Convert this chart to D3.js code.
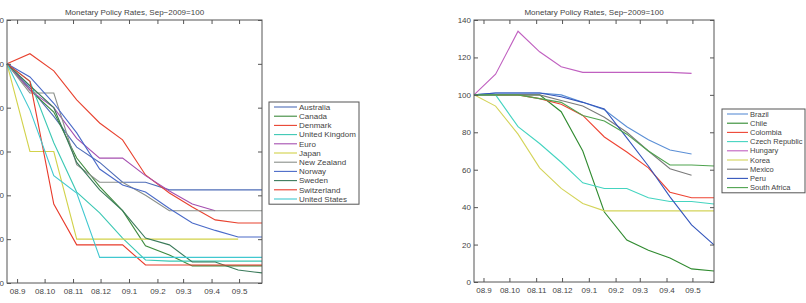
<!DOCTYPE html>
<html>
<head>
<meta charset="utf-8">
<script src="https://cdn.jsdelivr.net/npm/d3@7"></script>
<style>
  body { margin: 0; background: #fff; }
  svg { display: block; font-family: "Liberation Sans", Arial, sans-serif; }
</style>
</head>
<body>
<svg id="chart" width="806" height="303"></svg>
<script>
// observation dates (x positions of the data points)
var obsDates = ["2008-08-21", "2008-09-15", "2008-10-11", "2008-11-05", "2008-11-30", "2008-12-25",
                "2009-01-19", "2009-02-14", "2009-03-11", "2009-04-05", "2009-04-30", "2009-05-26"];

var titleText = "Monetary Policy Rates, Sep\u22122009=100";

// advanced economies
var advNames = ["Australia", "Canada", "Denmark", "United Kingdom", "Euro", "Japan",
                "New Zealand", "Norway", "Sweden", "Switzerland", "United States"];
var advColors = ["#4f6db8", "#3d8a3d", "#e8422f", "#3cc8b4", "#a54fb0", "#d2d24a",
                 "#8a8f8a", "#4a6ac8", "#3a7a5a", "#e83a2a", "#40c8d0"];
var australia   = [100, 89, 76, 62, 55, 46, 46, 42.5, 42.5, 42.5, 42.5, 42.5];
var canada      = [100, 88, 78, 57, 44, 33, 17, 12.8, 7.8, 7.8, 7.8, 7.8];
var denmark     = [100, 104.6, 96.8, 83.6, 73, 65.3, 49.3, 41.1, 34.7, 28.8, 27.4, 27.4];
var uk          = [100, 92, 64, 41.5, 32, 20.5, 10.5, 10, 10, 10, 10, 10];
var euro        = [100, 88, 80, 66, 57, 57, 49, 42, 36, 33, null, null];
var japan       = [100, 60, 60, 20, 20, 20, 20, 20, 20, 20, 20, null];
var newZealand  = [100, 86.7, 86.7, 54, 46, 46, 40, 33, 33, 33, 33, 33];
var norway      = [100, 94, 82, 68.5, 52, 44.7, 41.5, 34, 27.4, 24, 21, 21];
var sweden      = [100, 90, 80, 55, 42.5, 33, 20.5, 17.4, 9.6, 9.6, 5.9, 4.6];
var switzerland = [100, 92, 36, 17.4, 17.4, 17.4, 8.2, 8.2, 8.2, 8.2, 8.2, 8.2];
var us          = [100, 79, 49, 41, 11.7, 11.7, 11.7, 11.7, 11.7, 11.7, 11.7, 11.7];
var advSeries = [australia, canada, denmark, uk, euro, japan, newZealand, norway, sweden, switzerland, us];
var advTicks = [0, 20, 40, 60, 80, 100, 120];

// emerging economies
var emNames = ["Brazil", "Chile", "Colombia", "Czech Republic", "Hungary", "Korea", "Mexico", "Peru", "South Africa"];
var emColors = ["#5b8fd6", "#2f8a2f", "#ee4433", "#44d4c0", "#c060c0", "#d4d45a", "#7a7a7a", "#3355bb", "#4fa34f"];
var brazil      = [100, 101, 101, 101, 100, 96, 92, 83, 76, 70.5, 68.4, null];
var chile       = [100, 100, 100, 100, 91, 70, 37.4, 22.4, 17, 12.8, 7, 5.9];
var colombia    = [100, 100, 100, 98, 95, 89, 77.5, 69.5, 61, 48, 45, 45];
var czech       = [100, 100, 83, 74, 64, 53, 50, 50, 45, 43, 43, 41.7];
var hungary     = [100, 111, 134, 123, 115, 112, 112, 112, 112, 112, 111.5, null];
var korea       = [100, 94, 79, 61, 50, 42, 38, 38, 38, 38, 38, 38];
var mexico      = [100, 100, 100, 100, 97, 94, 88, 80, 70, 60.5, 57, null];
var peru        = [100, 101, 101, 101, 99, 96, 92.5, 77, 62, 45.5, 30.5, 19.8];
var southAfrica = [100, 100, 100, 98, 96, 89, 86, 79, 70, 62.5, 62.5, 62];
var emSeries = [brazil, chile, colombia, czech, hungary, korea, mexico, peru, southAfrica];
var emTicks = [0, 20, 40, 60, 80, 100, 120, 140];

var parseDate = d3.timeParse("%Y-%m-%d");
var dates = obsDates.map(parseDate);
var monthTicks = d3.timeMonth.range(new Date(2008, 8, 1), new Date(2009, 5, 1));
var fmtMonth = d3.timeFormat("%y.%-m");

var svg = d3.select("#chart");
svg.append("rect").attr("width", 806).attr("height", 303).attr("fill", "#fff");

function panel(opts) {
    var x = d3.scaleTime().domain(d3.extent(dates)).range([opts.left, opts.right]);
    var y = d3.scaleLinear().domain([0, d3.max(opts.yTicks)]).range([opts.bottom, opts.top]);
    var g = svg.append("g");

    // lines
    var line = d3.line()
        .defined(function (d) { return d != null; })
        .x(function (d, i) { return x(dates[i]); })
        .y(function (d) { return y(d); });

    g.append("g").selectAll("path")
        .data(opts.series)
        .enter().append("path")
        .attr("fill", "none")
        .attr("stroke", function (d, i) { return opts.colors[i]; })
        .attr("stroke-width", 1.1)
        .attr("d", line);

    // axes, ticks pointing inwards like the original
    var fontSize = "8px";
    var bottom = g.append("g").attr("transform", "translate(0," + opts.bottom + ")")
        .call(d3.axisBottom(x).tickValues(monthTicks).tickFormat(fmtMonth).tickSize(-4).tickSizeOuter(0).tickPadding(5));
    var top = g.append("g").attr("transform", "translate(0," + opts.top + ")")
        .call(d3.axisTop(x).tickValues(monthTicks).tickFormat("").tickSize(-4).tickSizeOuter(0));
    var left = g.append("g").attr("transform", "translate(" + opts.left + ",0)")
        .call(d3.axisLeft(y).tickValues(opts.yTicks).tickSize(-4).tickSizeOuter(0).tickPadding(3));
    var right = g.append("g").attr("transform", "translate(" + opts.right + ",0)")
        .call(d3.axisRight(y).tickValues(opts.yTicks).tickFormat("").tickSize(-4).tickSizeOuter(0));

    [bottom, top, left, right].forEach(function (a) {
        a.select(".domain").remove();
        a.selectAll("line").attr("stroke", "#555");
        a.selectAll("text").style("font-size", fontSize).attr("fill", "#444");
    });

    g.append("rect")
        .attr("x", opts.left).attr("y", opts.top)
        .attr("width", opts.right - opts.left).attr("height", opts.bottom - opts.top)
        .attr("fill", "none").attr("stroke", "#555").attr("stroke-width", 1);

    g.append("text")
        .attr("x", (opts.left + opts.right) / 2).attr("y", opts.top - 5)
        .attr("text-anchor", "middle")
        .style("font-size", fontSize).attr("fill", "#444")
        .text(titleText);

    // legend
    var lg = g.append("g");
    var rowH = 9.2;
    lg.append("rect")
        .attr("x", opts.legX).attr("y", opts.legY)
        .attr("width", opts.legW).attr("height", opts.names.length * rowH + 1)
        .attr("fill", "#fff").attr("stroke", "#555");
    var rows = lg.selectAll("g.row").data(opts.names).enter().append("g")
        .attr("class", "row")
        .attr("transform", function (d, i) { return "translate(" + opts.legX + "," + (opts.legY + 5 + i * rowH) + ")"; });
    rows.append("line")
        .attr("x1", 5).attr("x2", opts.sampleEnd).attr("y1", 0).attr("y2", 0)
        .attr("stroke", function (d, i) { return opts.colors[i]; })
        .attr("stroke-width", 1.1);
    rows.append("text")
        .attr("x", opts.sampleEnd + 2).attr("y", 0).attr("dy", "0.35em")
        .style("font-size", opts.legFont).attr("fill", "#444")
        .text(function (d) { return d; });
}

panel({ left: 7, right: 262, top: 20, bottom: 283, yTicks: advTicks,
        series: advSeries, colors: advColors, names: advNames,
        legX: 269, legY: 102, legW: 90, sampleEnd: 28, legFont: "8px" });

panel({ left: 474, right: 714, top: 20, bottom: 282, yTicks: emTicks,
        series: emSeries, colors: emColors, names: emNames,
        legX: 722, legY: 109, legW: 83, sampleEnd: 26, legFont: "7.5px" });
</script>
</body>
</html>
